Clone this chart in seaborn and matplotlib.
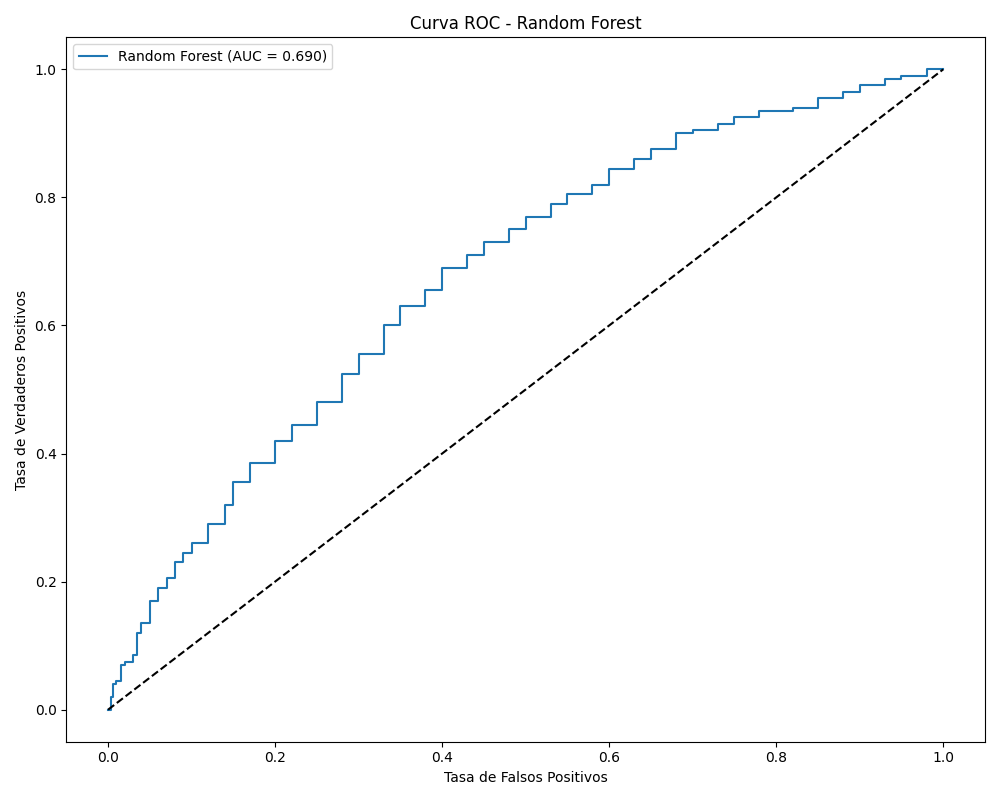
import numpy as np
import pandas as pd
import matplotlib
matplotlib.use('Agg')
import matplotlib.pyplot as plt
import seaborn as sns

fpr = [0.0, 0.003, 0.006, 0.01, 0.015, 0.02, 0.03, 0.035, 0.04, 0.05, 0.06, 0.07, 0.08, 0.09, 0.1,
       0.12, 0.14, 0.15, 0.17, 0.2, 0.22, 0.25, 0.28, 0.3, 0.33, 0.35, 0.38, 0.4, 0.43, 0.45,
       0.48, 0.5, 0.53, 0.55, 0.58, 0.6, 0.63, 0.65, 0.68, 0.7, 0.73, 0.75, 0.78, 0.8, 0.82,
       0.85, 0.88, 0.9, 0.93, 0.95, 0.98, 1.0]
tpr = [0.0, 0.02, 0.04, 0.045, 0.07, 0.075, 0.085, 0.12, 0.135, 0.17, 0.19, 0.205, 0.23, 0.245, 0.26,
       0.29, 0.32, 0.355, 0.385, 0.42, 0.445, 0.48, 0.525, 0.555, 0.6, 0.63, 0.655, 0.69, 0.71, 0.73,
       0.75, 0.77, 0.79, 0.805, 0.82, 0.845, 0.86, 0.875, 0.9, 0.905, 0.915, 0.925, 0.935, 0.935, 0.94,
       0.955, 0.965, 0.975, 0.985, 0.99, 1.0, 1.0]
auc = 0.690

df = pd.DataFrame({'fpr': fpr, 'tpr': tpr})

fig, ax = plt.subplots(figsize=(10, 8), dpi=100)
sns.lineplot(data=df, x='fpr', y='tpr', ax=ax, color='#1f77b4', drawstyle='steps-post',
             label=f'Random Forest (AUC = {auc:.3f})', estimator=None, sort=False)
ax.plot([0, 1], [0, 1], 'k--')
ax.set_title('Curva ROC - Random Forest')
ax.set_xlabel('Tasa de Falsos Positivos')
ax.set_ylabel('Tasa de Verdaderos Positivos')
ax.legend(loc='upper left')
plt.tight_layout()
plt.savefig('out.png')
